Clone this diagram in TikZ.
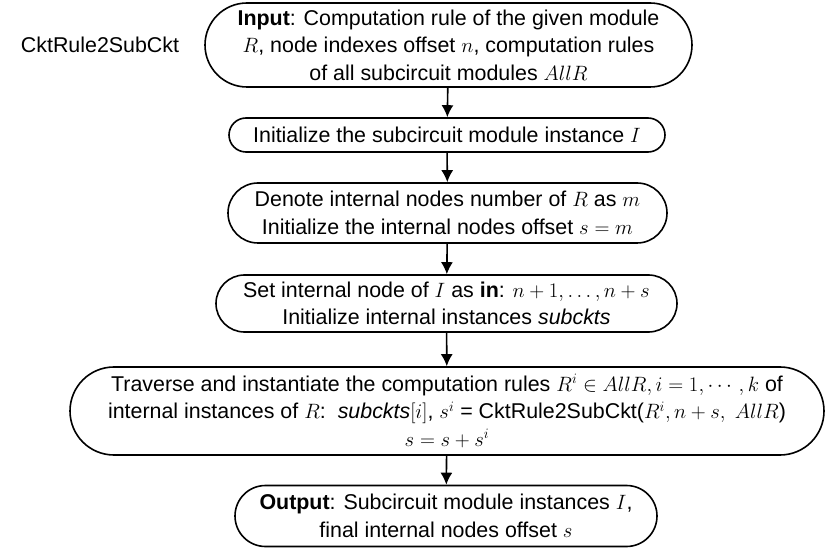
\documentclass[tikz,border=0pt]{standalone}
\usepackage{fontspec}
\setmainfont{Liberation Sans}
\usepackage{amsmath,amssymb}
\usetikzlibrary{arrows.meta}

\tikzset{
  proc/.style={draw, line width=1.6pt, align=center, inner sep=0pt,
    font=\fontsize{21.4}{27.5}\selectfont},
}

\begin{document}
\begin{tikzpicture}[x=1pt,y=1pt]
\useasboundingbox (0,0) rectangle (830,-553);

\node[font=\fontsize{21.4}{27.5}\selectfont] (T) at (100,-45) {CktRule2SubCkt};

\node[proc, minimum width=487, minimum height=84, rounded corners=42] (P1) at (448.5,-45)
  {\textbf{Input}: Computation rule of the given module\\
   $R$, node indexes offset $n$, computation rules\\
   of all subcircuit modules $AllR$};
\node[proc, minimum width=436, minimum height=34, rounded corners=17] (P2) at (447,-135)
  {Initialize the subcircuit module instance $I$};
\node[proc, minimum width=439, minimum height=60, rounded corners=30] (P3) at (447.5,-213)
  {Denote internal nodes number of $R$ as $m$\\
   Initialize the internal nodes offset $s=m$};
\node[proc, minimum width=461, minimum height=57, rounded corners=28.5] (P4) at (446.5,-303.5)
  {Set internal node of $I$ as \textbf{in}: $n+1,\ldots,n+s$\\
   Initialize internal instances \textit{subckts}};
\node[proc, minimum width=754, minimum height=88, rounded corners=44] (P5) at (447,-411)
  {Traverse and instantiate the computation rules $R^i\in AllR, i=1,\cdots,k$ of\\
   internal instances of $R$:\ \ \textit{subckts}$[i]$, $s^i$ = CktRule2SubCkt($R^i, n+s,\ AllR$)\\
   $s=s+s^i$};
\node[proc, minimum width=422, minimum height=61, rounded corners=30.5] (P6) at (446,-516)
  {\textbf{Output}: Subcircuit module instances $I$,\\
   final internal nodes offset $s$};

\path[->, >={Latex[length=12pt,width=12pt]}, line width=1.6pt] (P1) edge [] node[]{} (P2);
\path[->, >={Latex[length=12pt,width=12pt]}, line width=1.6pt] (P2) edge [] node[]{} (P3);
\path[->, >={Latex[length=12pt,width=12pt]}, line width=1.6pt] (P3) edge [] node[]{} (P4);
\path[->, >={Latex[length=12pt,width=12pt]}, line width=1.6pt] (P4) edge [] node[]{} (P5);
\path[->, >={Latex[length=12pt,width=12pt]}, line width=1.6pt] (P5) edge [] node[]{} (P6);
\end{tikzpicture}
\end{document}
